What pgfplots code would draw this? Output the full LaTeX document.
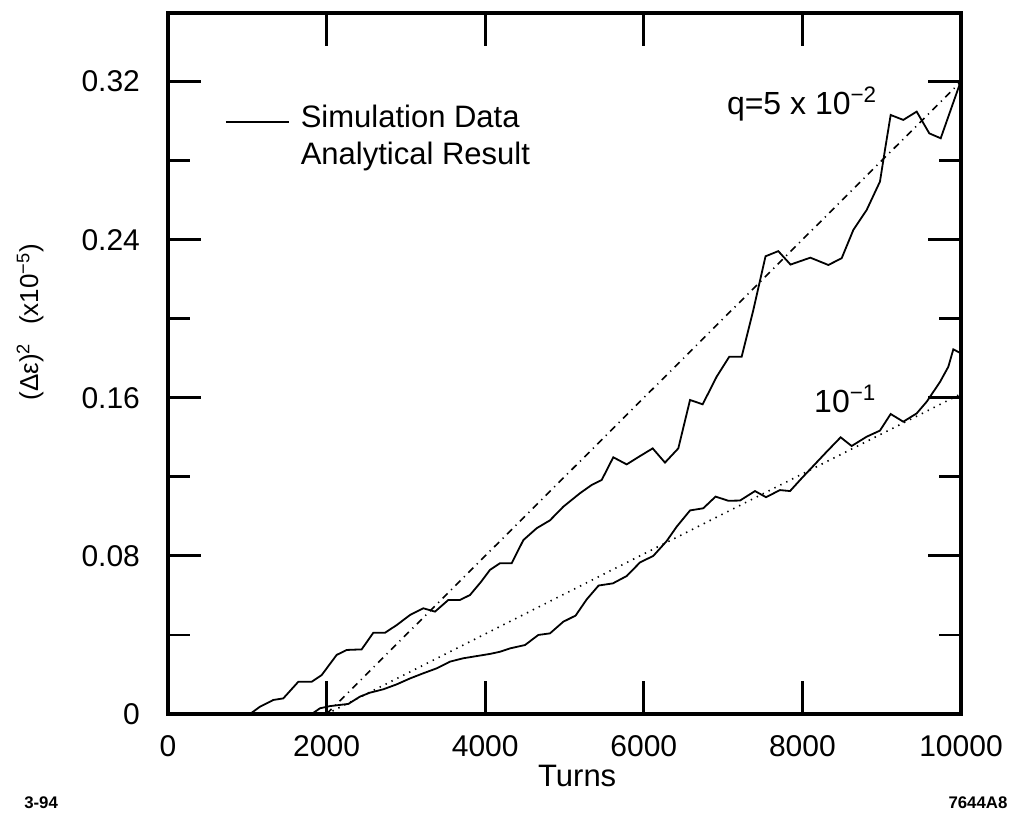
\documentclass[border=0pt]{standalone}
\usepackage{fontspec}
\setmainfont{Liberation Sans}
\usepackage{pgfplots}
\pgfplotsset{compat=1.18}
\begin{document}
\begin{tikzpicture}
\useasboundingbox (0,0) rectangle (508pt,409.5pt);
\begin{axis}[
  at={(84pt,52.5pt)}, anchor=south west,
  width=396.5pt, height=350.5pt, scale only axis,
  xmin=0, xmax=10000, ymin=0, ymax=0.3547,
  clip=false,
  axis line style={line width=1.6pt},
  xtick={0,2000,4000,6000,8000,10000},
  xticklabels={0,2000,4000,6000,8000,10000},
  ytick={0,0.08,0.16,0.24,0.32},
  yticklabels={0,0.08,0.16,0.24,0.32},
  minor ytick={0.04,0.12,0.2,0.28},
  scaled ticks=false,
  /pgf/number format/assume math mode=true,
  tick pos=both, tick align=inside,
  major tick length=16.5pt, minor tick length=11pt,
  tick style={line width=1.4pt, black},
  tick label style={font=\fontsize{15}{18}\selectfont},
  xticklabel style={yshift=-7pt},
  yticklabel style={xshift=-10.5pt},
  xlabel={Turns},
  xlabel style={at={(axis description cs:0.516,-0.0885)}, anchor=center, font=\fontsize{15.5}{18}\selectfont},
  ylabel={(Δε)\textsuperscript{2}\hspace{0.7em}(x10\textsuperscript{−5})},
  ylabel style={at={(axis description cs:-0.174,0.559)}, anchor=center, font=\fontsize{13}{16}\selectfont},
  legend cell align=left,
  legend image code/.code={\draw[#1] (0pt,0pt) -- (31.5pt,0pt);},
  legend style={draw=none, fill=none, inner sep=0pt, outer sep=0pt,
    at={(axis description cs:0.0719,0.859)}, anchor=north west,
    font=\fontsize{15.5}{18}\selectfont, row sep=8.5pt, column sep=5.5pt,
    nodes={inner sep=0pt, text height=0.8em, text depth=0.2em}},
]
% simulation data, q = 5e-2
\addplot[black, line width=0.9pt] coordinates {
(0,0) (1034,0) (1160,0.0037) (1328,0.0071) (1454,0.0079) (1643,0.0163)
(1812,0.0163) (1938,0.0197) (2127,0.0299) (2253,0.0324) (2442,0.0327)
(2589,0.0411) (2736,0.0411) (2884,0.045) (3052,0.0501) (3219,0.0535)
(3367,0.0518) (3535,0.0577) (3682,0.0577) (3808,0.0602) (3950,0.067)
(4060,0.0729) (4187,0.0763) (4334,0.0763) (4481,0.088) (4649,0.094)
(4817,0.098) (4985,0.1049) (5195,0.1117) (5343,0.1159) (5469,0.1184)
(5615,0.1299) (5784,0.1263) (5952,0.1305) (6112,0.1344) (6267,0.1272)
(6435,0.1344) (6583,0.1589) (6742,0.1567) (6919,0.1707) (7078,0.1808)
(7234,0.1808) (7381,0.2044) (7535,0.2316) (7696,0.2342) (7850,0.2274)
(8100,0.2309) (8327,0.2272) (8495,0.2306) (8642,0.2449) (8810,0.255)
(8978,0.2694) (9041,0.2854) (9113,0.3031) (9272,0.3006) (9441,0.3048)
(9600,0.2938) (9744,0.2913) (10000,0.3205)
};
\addlegendentry{Simulation Data}
\addlegendimage{draw opacity=0}
\addlegendentry{Analytical Result}
% simulation data, q = 1e-1
\addplot[black, line width=0.9pt, forget plot] coordinates {
(0,0) (1812,0) (1917,0.0029) (2043,0.004) (2169,0.0046) (2274,0.0051)
(2421,0.0088) (2547,0.0108) (2715,0.0125) (2884,0.015) (3052,0.018)
(3219,0.0206) (3388,0.0231) (3556,0.0265) (3724,0.0282) (3892,0.0293)
(4060,0.0304) (4187,0.0315) (4313,0.0332) (4502,0.0349) (4670,0.04)
(4817,0.0408) (4985,0.0467) (5140,0.0498) (5280,0.058) (5430,0.065)
(5610,0.0661) (5784,0.0698) (5952,0.0767) (6120,0.08) (6288,0.0875)
(6415,0.0948) (6583,0.103) (6750,0.1041) (6905,0.11) (7066,0.1079)
(7213,0.108) (7402,0.1128) (7541,0.1097) (7717,0.1133) (7844,0.1128)
(7991,0.1193) (8137,0.1255) (8306,0.1327) (8482,0.14) (8621,0.1356)
(8810,0.1403) (8978,0.1434) (9113,0.1518) (9272,0.1479) (9441,0.1521)
(9567,0.158) (9735,0.168) (9840,0.1757) (9903,0.1845) (10000,0.1825)
};
% analytical results
\addplot[black, line width=0.8pt, dash pattern=on 3.5pt off 2.5pt on 0.6pt off 2.5pt, forget plot]
  coordinates {(2000,0) (10000,0.32)};
\addplot[black, line width=0.8pt, dash pattern=on 0.7pt off 2.6pt, forget plot]
  coordinates {(2000,0) (10000,0.162)};
\node[anchor=base west, font=\fontsize{16}{19}\selectfont] at (axis description cs:0.696,0.8545) {q=5 x 10\textsuperscript{−2}};
\node[anchor=base west, font=\fontsize{16}{19}\selectfont] at (axis description cs:0.806,0.4294) {10\textsuperscript{−1}};
\node[anchor=center, font=\fontsize{8.4}{10}\selectfont\bfseries] at (axis description cs:-0.160,-0.127) {3-94};
\node[anchor=center, font=\fontsize{8.4}{10}\selectfont\bfseries] at (axis description cs:1.0214,-0.127) {7644A8};
\end{axis}
\end{tikzpicture}
\end{document}
